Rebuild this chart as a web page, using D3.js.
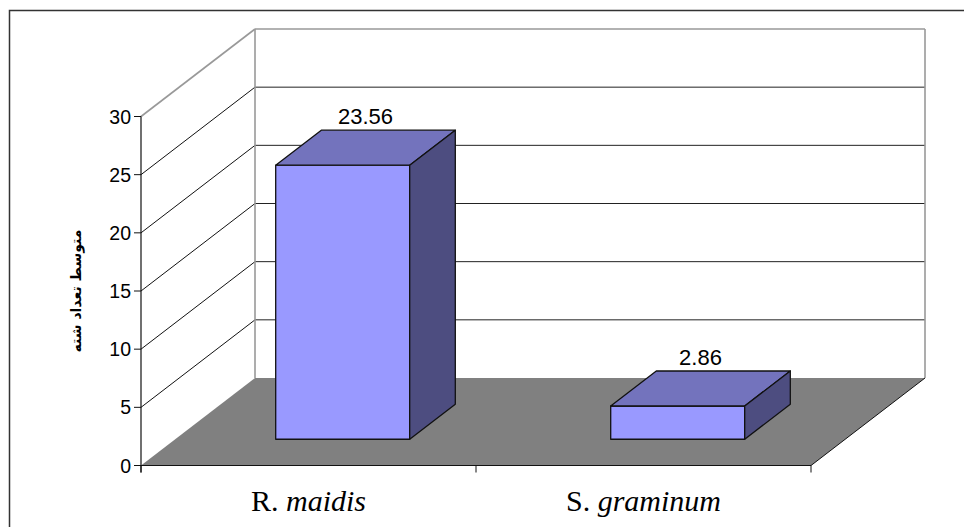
<!DOCTYPE html>
<html>
<head>
<meta charset="utf-8">
<script src="https://cdn.jsdelivr.net/npm/d3@7"></script>
<style>
  body { margin: 0; background: #fff; }
  text { font-family: Arial, "Liberation Sans", "DejaVu Sans", sans-serif; }
</style>
</head>
<body>
<svg id="chart" width="964" height="527"></svg>
<script>
// data
const species = ["R. maidis", "S. graminum"]
const genus = ["R.", "S."]
const epithet = ["maidis", "graminum"]
const means = [23.56, 2.86]
const yTicks = [0, 5, 10, 15, 20, 25, 30]
const yTitle = "متوسط تعداد شته"

const svg = d3.select("#chart")

// 3d look: depth offset of the back wall
const depthX = 114, depthY = 87.5

const x = d3.scaleBand().domain(species).range([141, 811])
const y = d3.scaleLinear().domain([0, 30]).range([465.5, 116.5])

// project a point from the front plane back by depth d (0..1)
const proj = (px, py, d) => [px + d * depthX, py - d * depthY]
const poly = pts => "M" + pts.map(p => p.join(",")).join("L") + "Z"

// outer frame
svg.append("rect")
    .attr("x", 9.5).attr("y", 10.5)
    .attr("width", 970).attr("height", 540)
    .style("fill", "none").style("stroke", "#333").style("stroke-width", 1.5)

const x0 = x.range()[0], x1 = x.range()[1]
const yTop = y(30), yBot = y(0)

// back wall gridlines
svg.selectAll("line.back-grid")
    .data(yTicks.slice(1, -1))
    .join("line")
    .attr("class", "back-grid")
    .attr("x1", proj(x0, 0, 1)[0]).attr("x2", proj(x1, 0, 1)[0])
    .attr("y1", d => proj(0, y(d), 1)[1]).attr("y2", d => proj(0, y(d), 1)[1])
    .style("stroke", "#222").style("stroke-width", 1)

// side wall gridlines
svg.selectAll("line.side-grid")
    .data(yTicks.slice(1, -1))
    .join("line")
    .attr("class", "side-grid")
    .attr("x1", x0).attr("y1", d => y(d))
    .attr("x2", proj(x0, 0, 1)[0]).attr("y2", d => proj(0, y(d), 1)[1])
    .style("stroke", "#111").style("stroke-width", 1)

// wall edges (gray)
const wallEdge = [
    [proj(x0, yTop, 0), proj(x0, yTop, 1)],
    [proj(x0, yTop, 1), proj(x1, yTop, 1)],
    [proj(x0, yTop, 1), proj(x0, yBot, 1)],
    [proj(x1, yTop, 1), proj(x1, yBot, 1)]
]
svg.selectAll("line.wall-edge")
    .data(wallEdge)
    .join("line")
    .attr("class", "wall-edge")
    .attr("x1", d => d[0][0]).attr("y1", d => d[0][1])
    .attr("x2", d => d[1][0]).attr("y2", d => d[1][1])
    .style("stroke", "#999").style("stroke-width", 1.6)

// floor
svg.append("path")
    .attr("d", poly([proj(x0, yBot, 0), proj(x1, yBot, 0), proj(x1, yBot, 1), proj(x0, yBot, 1)]))
    .style("fill", "#808080").style("stroke", "none")
svg.append("line")
    .attr("x1", x1).attr("y1", yBot)
    .attr("x2", proj(x1, yBot, 1)[0]).attr("y2", proj(x1, yBot, 1)[1])
    .style("stroke", "#111").style("stroke-width", 1)

// bars: front, top, side faces
const dFront = 0.3, dBack = 0.7
const bw = x.bandwidth()
const bars = svg.selectAll("g.bar")
    .data(species.map((s, i) => ({s, v: means[i]})))
    .join("g")
    .attr("class", "bar")

const barPts = d => {
    const l = x(d.s) + 0.3 * bw, r = x(d.s) + 0.7 * bw
    return {l, r, t: y(d.v), b: y(0)}
}
bars.append("path")
    .attr("d", d => { const p = barPts(d)
        return poly([proj(p.l, p.b, dFront), proj(p.r, p.b, dFront), proj(p.r, p.t, dFront), proj(p.l, p.t, dFront)]) })
    .style("fill", "#9999FF")
bars.append("path")
    .attr("d", d => { const p = barPts(d)
        return poly([proj(p.l, p.t, dFront), proj(p.r, p.t, dFront), proj(p.r, p.t, dBack), proj(p.l, p.t, dBack)]) })
    .style("fill", "#7373BD")
bars.append("path")
    .attr("d", d => { const p = barPts(d)
        return poly([proj(p.r, p.b, dFront), proj(p.r, p.b, dBack), proj(p.r, p.t, dBack), proj(p.r, p.t, dFront)]) })
    .style("fill", "#4D4D80")
bars.selectAll("path")
    .style("stroke", "#111").style("stroke-width", 1.3).style("stroke-linejoin", "round")

// value labels
bars.append("text")
    .attr("x", d => proj(x(d.s) + bw / 2, 0, 0.5)[0])
    .attr("y", d => proj(0, y(d.v), dBack)[1] - 6)
    .attr("text-anchor", "middle")
    .style("font-size", "22px")
    .text(d => d.v.toFixed(2))

// y axis
svg.append("line")
    .attr("x1", x0).attr("x2", x0)
    .attr("y1", yTop).attr("y2", yBot + 7)
    .style("stroke", "#111").style("stroke-width", 1.2)
svg.append("line")
    .attr("x1", x0).attr("x2", x1)
    .attr("y1", yBot).attr("y2", yBot)
    .style("stroke", "#111").style("stroke-width", 1.2)

svg.selectAll("line.ytick")
    .data(yTicks)
    .join("line")
    .attr("class", "ytick")
    .attr("x1", x0 - 7).attr("x2", x0)
    .attr("y1", d => y(d)).attr("y2", d => y(d))
    .style("stroke", "#111")

svg.selectAll("text.ylabel")
    .data(yTicks)
    .join("text")
    .attr("class", "ylabel")
    .attr("x", x0 - 10)
    .attr("y", d => y(d))
    .attr("dy", "0.36em")
    .attr("text-anchor", "end")
    .style("font-size", "19.5px")
    .text(d => d)

// category ticks at band edges
svg.selectAll("line.xtick")
    .data(species.map(s => x(s)).concat([x1]))
    .join("line")
    .attr("class", "xtick")
    .attr("x1", d => d).attr("x2", d => d)
    .attr("y1", yBot).attr("y2", yBot + 7)
    .style("stroke", "#111")

// category labels
const catText = svg.selectAll("text.xlabel")
    .data(species)
    .join("text")
    .attr("class", "xlabel")
    .attr("x", d => x(d) + bw / 2)
    .attr("y", 511)
    .attr("text-anchor", "middle")
    .style("font-family", "'Times New Roman', 'Liberation Serif', serif")
    .style("font-size", "30px")
catText.append("tspan").text((d, i) => genus[i] + " ")
catText.append("tspan").style("font-style", "italic").text((d, i) => epithet[i])

// y title
svg.append("text")
    .attr("transform", `translate(81, ${(yTop + yBot) / 2}) rotate(-90)`)
    .attr("text-anchor", "middle")
    .style("font-size", "14px")
    .style("font-weight", "bold")
    .style("font-family", "'DejaVu Sans', sans-serif")
    .text(yTitle)
</script>
</body>
</html>
